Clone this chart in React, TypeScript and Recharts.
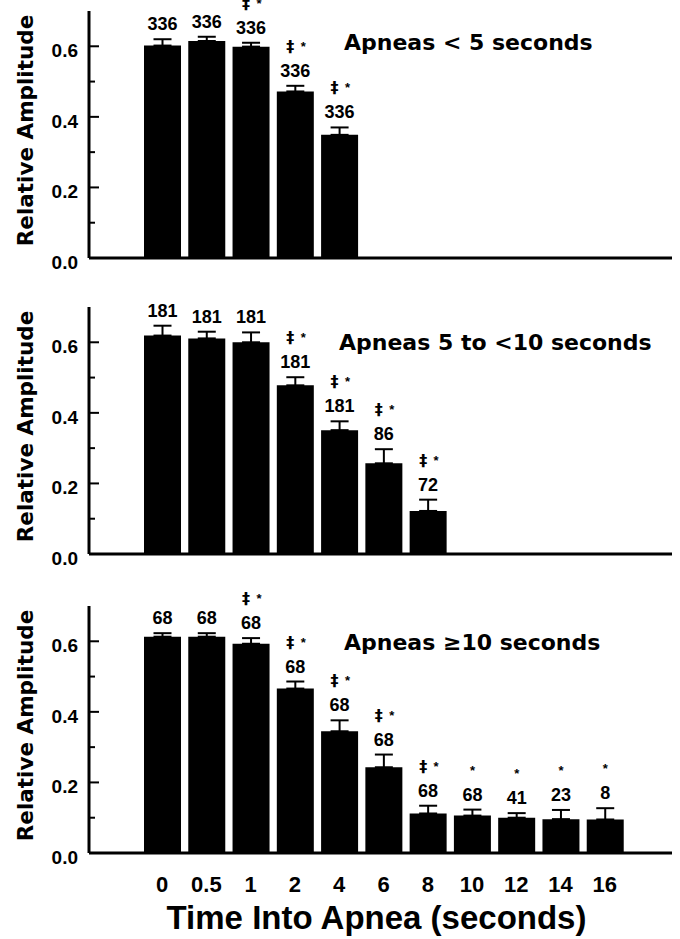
import { Bar, BarChart, ErrorBar, Label, LabelList, XAxis, YAxis } from "recharts"

const categories = ["0", "0.5", "1", "2", "4", "6", "8", "10", "12", "14", "16"]

// Apneas < 5 seconds
const shortValues = [0.602, 0.615, 0.599, 0.472, 0.349]
const shortErrors = [0.018, 0.012, 0.011, 0.016, 0.021]
const shortCounts = [336, 336, 336, 336, 336]
const shortMarks = ["", "", "‡*", "‡*", "‡*"]

// Apneas 5 to <10 seconds
const midValues = [0.619, 0.611, 0.6, 0.478, 0.351, 0.257, 0.122]
const midErrors = [0.028, 0.019, 0.028, 0.023, 0.025, 0.04, 0.032]
const midCounts = [181, 181, 181, 181, 181, 86, 72]
const midMarks = ["", "", "", "‡*", "‡*", "‡*", "‡*"]

// Apneas >= 10 seconds
const longValues = [0.613, 0.613, 0.593, 0.466, 0.345, 0.243, 0.112, 0.106, 0.1, 0.096, 0.095]
const longErrors = [0.01, 0.01, 0.016, 0.02, 0.031, 0.036, 0.022, 0.017, 0.013, 0.026, 0.032]
const longCounts = [68, 68, 68, 68, 68, 68, 68, 68, 41, 23, 8]
const longMarks = ["", "", "‡*", "‡*", "‡*", "‡*", "‡*", "*", "*", "*", "*"]

const yTicks = [0, 0.1, 0.2, 0.3, 0.4, 0.5, 0.6]
const yLabelTicks = [0, 0.2, 0.4, 0.6]

const titles = ["Apneas < 5 seconds", "Apneas 5 to <10 seconds", "Apneas ≥10 seconds"]

type Row = { t: string; amp: number | null; err?: number[]; n?: number; mark?: string }

function buildRows(values: number[], errors: number[], counts: number[], marks: string[]): Row[] {
  return categories.map((t, i) => ({
    t,
    amp: i < values.length ? values[i] : null,
    err: i < values.length ? [0, errors[i]] : undefined,
    n: counts[i],
    mark: marks[i],
  }))
}

const PLOT_H = 247

const panels = [
  { rows: buildRows(shortValues, shortErrors, shortCounts, shortMarks), top: 0, padTop: 11, height: 290, ticks: false, title: titles[0], tx: 344, ty: 50 },
  { rows: buildRows(midValues, midErrors, midCounts, midMarks), top: 286, padTop: 21, height: 300, ticks: false, title: titles[1], tx: 339, ty: 350 },
  { rows: buildRows(longValues, longErrors, longCounts, longMarks), top: 575, padTop: 31, height: 364, ticks: true, title: titles[2], tx: 344, ty: 650 },
]

const numFont = "'Liberation Sans', Arial, sans-serif"
const wideFont = "'DejaVu Sans', sans-serif"

function YTick(props: any) {
  const { x, y, payload } = props
  const major = yLabelTicks.includes(payload.value)
  return (
    <g>
      <line x1={x} x2={x + (major ? 10 : 6)} y1={y} y2={y} stroke="#000" strokeWidth={2} />
      {major && (
        <text x={x - 11} y={y + 11} textAnchor="end" fontFamily={numFont} fontWeight="bold" fontSize={19} fill="#000">
          {payload.value.toFixed(1)}
        </text>
      )}
    </g>
  )
}

function XTick(props: any) {
  const { x, y, payload } = props
  return (
    <text x={x} y={y + 39} textAnchor="middle" fontFamily={numFont} fontWeight="bold" fontSize={22} fill="#000">
      {payload.value}
    </text>
  )
}

function makeCountLabel(rows: Row[]) {
  return (props: any) => {
    const vb = props.viewBox ?? props
    const { x, y, width, height } = vb
    const row = rows[props.index]
    if (!row || row.amp == null || !row.err) return null
    const perUnit = height / row.amp
    const capY = y - row.err[1] * perUnit
    const cx = x + width / 2
    const numY = capY - 9
    const markY = numY - 25
    return (
      <g>
        <text x={cx} y={numY} textAnchor="middle" fontFamily={numFont} fontWeight="bold" fontSize={18} fill="#000">
          {row.n}
        </text>
        {row.mark === "‡*" && (
          <>
            <text x={cx - 5} y={markY} textAnchor="middle" fontFamily={wideFont} fontWeight="bold" fontSize={16} fill="#000">‡</text>
            <text x={cx + 8} y={markY - 1} textAnchor="middle" fontFamily={numFont} fontWeight="bold" fontSize={13} fill="#000">*</text>
          </>
        )}
        {row.mark === "*" && (
          <text x={cx} y={markY - 1} textAnchor="middle" fontFamily={numFont} fontWeight="bold" fontSize={13} fill="#000">*</text>
        )}
      </g>
    )
  }
}

function YTitle(props: any) {
  const { x, y, height } = props.viewBox
  const cx = x + 33
  const cy = y + height / 2 - 4
  return (
    <text x={cx} y={cy} transform={`rotate(-90, ${cx}, ${cy})`} textAnchor="middle" fontFamily={wideFont} fontWeight="bold" fontSize={21.5} fill="#000">
      Relative Amplitude
    </text>
  )
}

function XTitle(props: any) {
  const { x, y, width } = props.viewBox
  return (
    <text x={x + width / 2 - 4} y={y + 76} textAnchor="middle" fontFamily={numFont} fontWeight="bold" fontSize={33} fill="#000">
      Time Into Apnea (seconds)
    </text>
  )
}

function Panel({ rows, height, padTop, ticks }: { rows: Row[]; height: number; padTop: number; ticks: boolean }) {
  return (
    <BarChart width={680} height={height} data={rows} margin={{ top: padTop, right: 8, bottom: 0, left: 0 }} barCategoryGap={0}>
      <XAxis
        dataKey="t"
        type="category"
        interval={0}
        padding={{ left: 51, right: 45 }}
        axisLine={{ stroke: "#000", strokeWidth: 3 }}
        tickLine={false}
        tickSize={0}
        tickMargin={0}
        tick={ticks ? <XTick /> : false}
        height={height - padTop - PLOT_H}
      >
        {ticks && <Label content={<XTitle />} />}
      </XAxis>
      <YAxis
        type="number"
        domain={[0, 0.7]}
        ticks={yTicks}
        interval={0}
        width={89}
        axisLine={{ stroke: "#000", strokeWidth: 3 }}
        tickLine={false}
        tickSize={0}
        tickMargin={0}
        tick={<YTick />}
      >
        <Label content={<YTitle />} />
      </YAxis>
      <Bar dataKey="amp" fill="#000" barSize={37} isAnimationActive={false}>
        <ErrorBar dataKey="err" direction="y" width={9} stroke="#000" strokeWidth={2} isAnimationActive={false} />
        <LabelList dataKey="n" content={makeCountLabel(rows)} />
      </Bar>
    </BarChart>
  )
}

export default function App() {
  return (
    <div style={{ position: "absolute", left: 0, top: 0, width: 680, height: 939, background: "#fff", overflow: "hidden" }}>
      {panels.map((p, i) => (
        <div key={i} style={{ position: "absolute", left: 0, top: p.top }}>
          <Panel rows={p.rows} height={p.height} padTop={p.padTop} ticks={p.ticks} />
        </div>
      ))}
      <svg width={680} height={939} style={{ position: "absolute", left: 0, top: 0, pointerEvents: "none" }}>
        {panels.map((p, i) => (
          <text key={i} x={p.tx} y={p.ty} fontFamily={wideFont} fontWeight="bold" fontSize={22} fill="#000">
            {p.title}
          </text>
        ))}
      </svg>
    </div>
  )
}
